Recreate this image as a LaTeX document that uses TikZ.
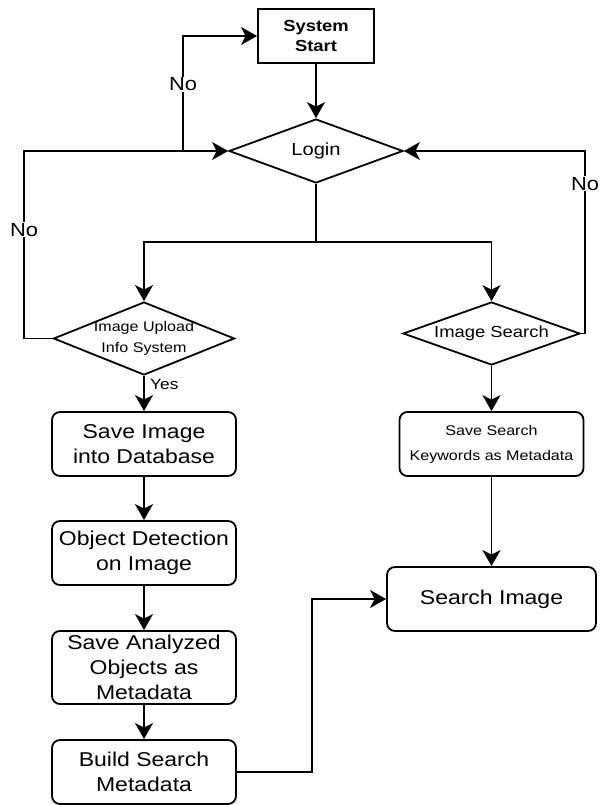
\documentclass[tikz,border=0pt]{standalone}
\usepackage{fontspec}
\setmainfont{Liberation Sans}[FakeStretch=1.15]
\usepackage{tikz}
\usetikzlibrary{arrows.meta,shapes.geometric}

\tikzset{
  flow/.style={line width=1.8pt,-{Stealth[length=16pt,width=18pt,inset=4.5pt]}},
  plain/.style={line width=1.8pt},
  stepbox/.style={draw,line width=1.8pt,rounded corners=8pt,align=center,
    minimum width=184pt,minimum height=64pt,inner sep=0pt,
    font=\fontsize{20}{25}\selectfont},
  decide/.style={draw,line width=1.8pt,diamond,align=center,inner sep=-2pt},
  nolabel/.style={fill=white,inner sep=1pt,font=\fontsize{19}{22}\selectfont}
}

\begin{document}
\begin{tikzpicture}[x=1pt,y=-1pt]
    \useasboundingbox (0,0) rectangle (603,805);

    \node[draw,line width=1.8pt,align=center,minimum width=116pt,minimum height=54pt,
      inner sep=0pt,font=\bfseries\fontsize{16}{20}\selectfont] (start) at (316,36) {System\\Start};
    \node[decide,minimum width=174pt,minimum height=64pt,aspect=2.7,
      font=\fontsize{17.5}{20}\selectfont] (login) at (316,151) {Login};

    \node[decide,minimum width=181pt,minimum height=73pt,aspect=2.48,
      font=\fontsize{14}{21}\selectfont] (upload) at (144,338.5) {Image Upload\\Info System};
    \node[decide,minimum width=177pt,minimum height=63pt,aspect=2.8,
      font=\fontsize{16}{19}\selectfont] (search) at (491.5,333.5) {Image Search};

    \node[stepbox] (saveimg) at (144,444) {Save Image\\into Database};
    \node[stepbox] (objdet) at (144,553) {Object Detection\\on Image};
    \node[stepbox,minimum height=73pt] (analyzed) at (144,667.5) {Save Analyzed\\Objects as\\Metadata};
    \node[stepbox] (build) at (144,772) {Build Search\\Metadata};

    \node[stepbox,font=\fontsize{14}{25}\selectfont] (savekw) at (491.5,444) {Save Search\\Keywords as Metadata};
    \node[stepbox,minimum width=209pt] (srchimg) at (491.5,599) {Search Image};

    \coordinate (jn) at (183,151);
    \coordinate (lw) at (24,338.5);
    \coordinate (rw) at (585,333.5);
    \coordinate (br) at (316,242);
    \coordinate (bend) at (312,772);

    % top part
    \draw[flow] (start) -- (login);
    \draw[flow] (upload.west) -- (lw) |- node[nolabel,pos=0.29]{No} (login.west);
    \draw[flow] (jn) |- node[nolabel,pos=0.29]{No} (start.west);
    \draw[flow] (search.east) -- (rw) |- node[nolabel,pos=0.41]{No} (login.east);

    % branches
    \draw[plain] (login.south) -- (br);
    \draw[flow] (br) -| (upload.north);
    \draw[flow] (br) -| (search.north);

    % left column
    \draw[flow] (upload.south) -- node[pos=0.25,anchor=west,xshift=2pt,
      font=\fontsize{15}{18}\selectfont]{Yes} (saveimg.north);
    \draw[flow] (saveimg) -- (objdet);
    \draw[flow] (objdet) -- (analyzed);
    \draw[flow] (analyzed) -- (build);

    % right column
    \draw[flow] (search.south) -- (savekw.north);
    \draw[flow] (savekw) -- (srchimg);
    \draw[flow] (build.east) -- (bend) |- (srchimg.west);
\end{tikzpicture}
\end{document}
